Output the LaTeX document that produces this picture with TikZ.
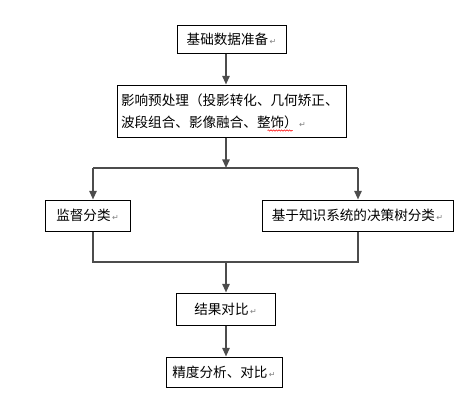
\documentclass[tikz,border=0pt]{standalone}
\usepackage{fontspec}
\setmainfont{Noto Sans CJK SC}
\newfontfamily\symfont{DejaVu Sans}
\usetikzlibrary{positioning, calc, arrows.meta, decorations.pathmorphing}
\newcommand{\parmark}{{\symfont\fontsize{6}{6}\selectfont\color{gray}\,↵}}

\begin{document}
\begin{tikzpicture}[
    x=0.75pt, y=-0.75pt,
    flowbox/.style={rectangle, draw=black, line width=0.75pt, inner sep=2pt,
                    font=\fontsize{10.2}{16.5}\selectfont},
    link/.style={draw=black!70, line width=1.3pt},
    arrow/.style={link, -{Triangle[width=5.5pt, length=6.5pt]}},
  ]
    \useasboundingbox (0,0) rectangle (471,400);

    \node[flowbox, minimum width=109*0.75pt, minimum height=28*0.75pt] (Prep)
         at (231.5,39) {基础数据准备\parmark};
    \node[flowbox, minimum width=229*0.75pt, minimum height=52*0.75pt,
          align=left, text width=221*0.75pt] (Preproc)
         at (231.5,111) {影响预处理（投影转化、几何矫正、\\波段组合、影像融合、整饰）\parmark};
    \node[flowbox, minimum width=85*0.75pt, minimum height=31*0.75pt] (SupCls)
         at (87.5,215.5) {监督分类\parmark};
    \node[flowbox, minimum width=191*0.75pt, minimum height=31*0.75pt] (KBCls)
         at (357.5,215.5) {基于知识系统的决策树分类\parmark};
    \node[flowbox, minimum width=99*0.75pt, minimum height=32*0.75pt] (Compare)
         at (225.5,309) {结果对比\parmark};
    \node[flowbox, minimum width=116*0.75pt, minimum height=30*0.75pt] (Accuracy)
         at (224,372) {精度分析、对比\parmark};

    % spell-check wave under the last word
    \draw[red, line width=0.4pt, decorate,
          decoration={snake, amplitude=0.5pt, segment length=2pt}]
         ($(Preproc.south west)+(151,-7)$) -- ($(Preproc.south west)+(176,-7)$);

    % split and merge points
    \coordinate (split) at (226,168);
    \coordinate (lbr) at (93,168);
    \coordinate (rbr) at (358,168);
    \coordinate (merge) at (226,262);

    \draw[arrow] (Prep.south -| split) -- (Preproc.north -| split);
    \draw[arrow] (Preproc.south -| split) -- (split);
    \draw[link] (lbr) -- (rbr);
    \draw[arrow] (lbr) -- (lbr |- SupCls.north);
    \draw[arrow] (rbr) -- (rbr |- KBCls.north);
    \draw[link] (SupCls.south -| lbr) |- (merge);
    \draw[link] (KBCls.south -| rbr) |- (merge);
    \draw[arrow] (merge) -- (Compare.north -| merge);
    \draw[arrow] (Compare.south -| merge) -- (Accuracy.north -| merge);
\end{tikzpicture}
\end{document}
